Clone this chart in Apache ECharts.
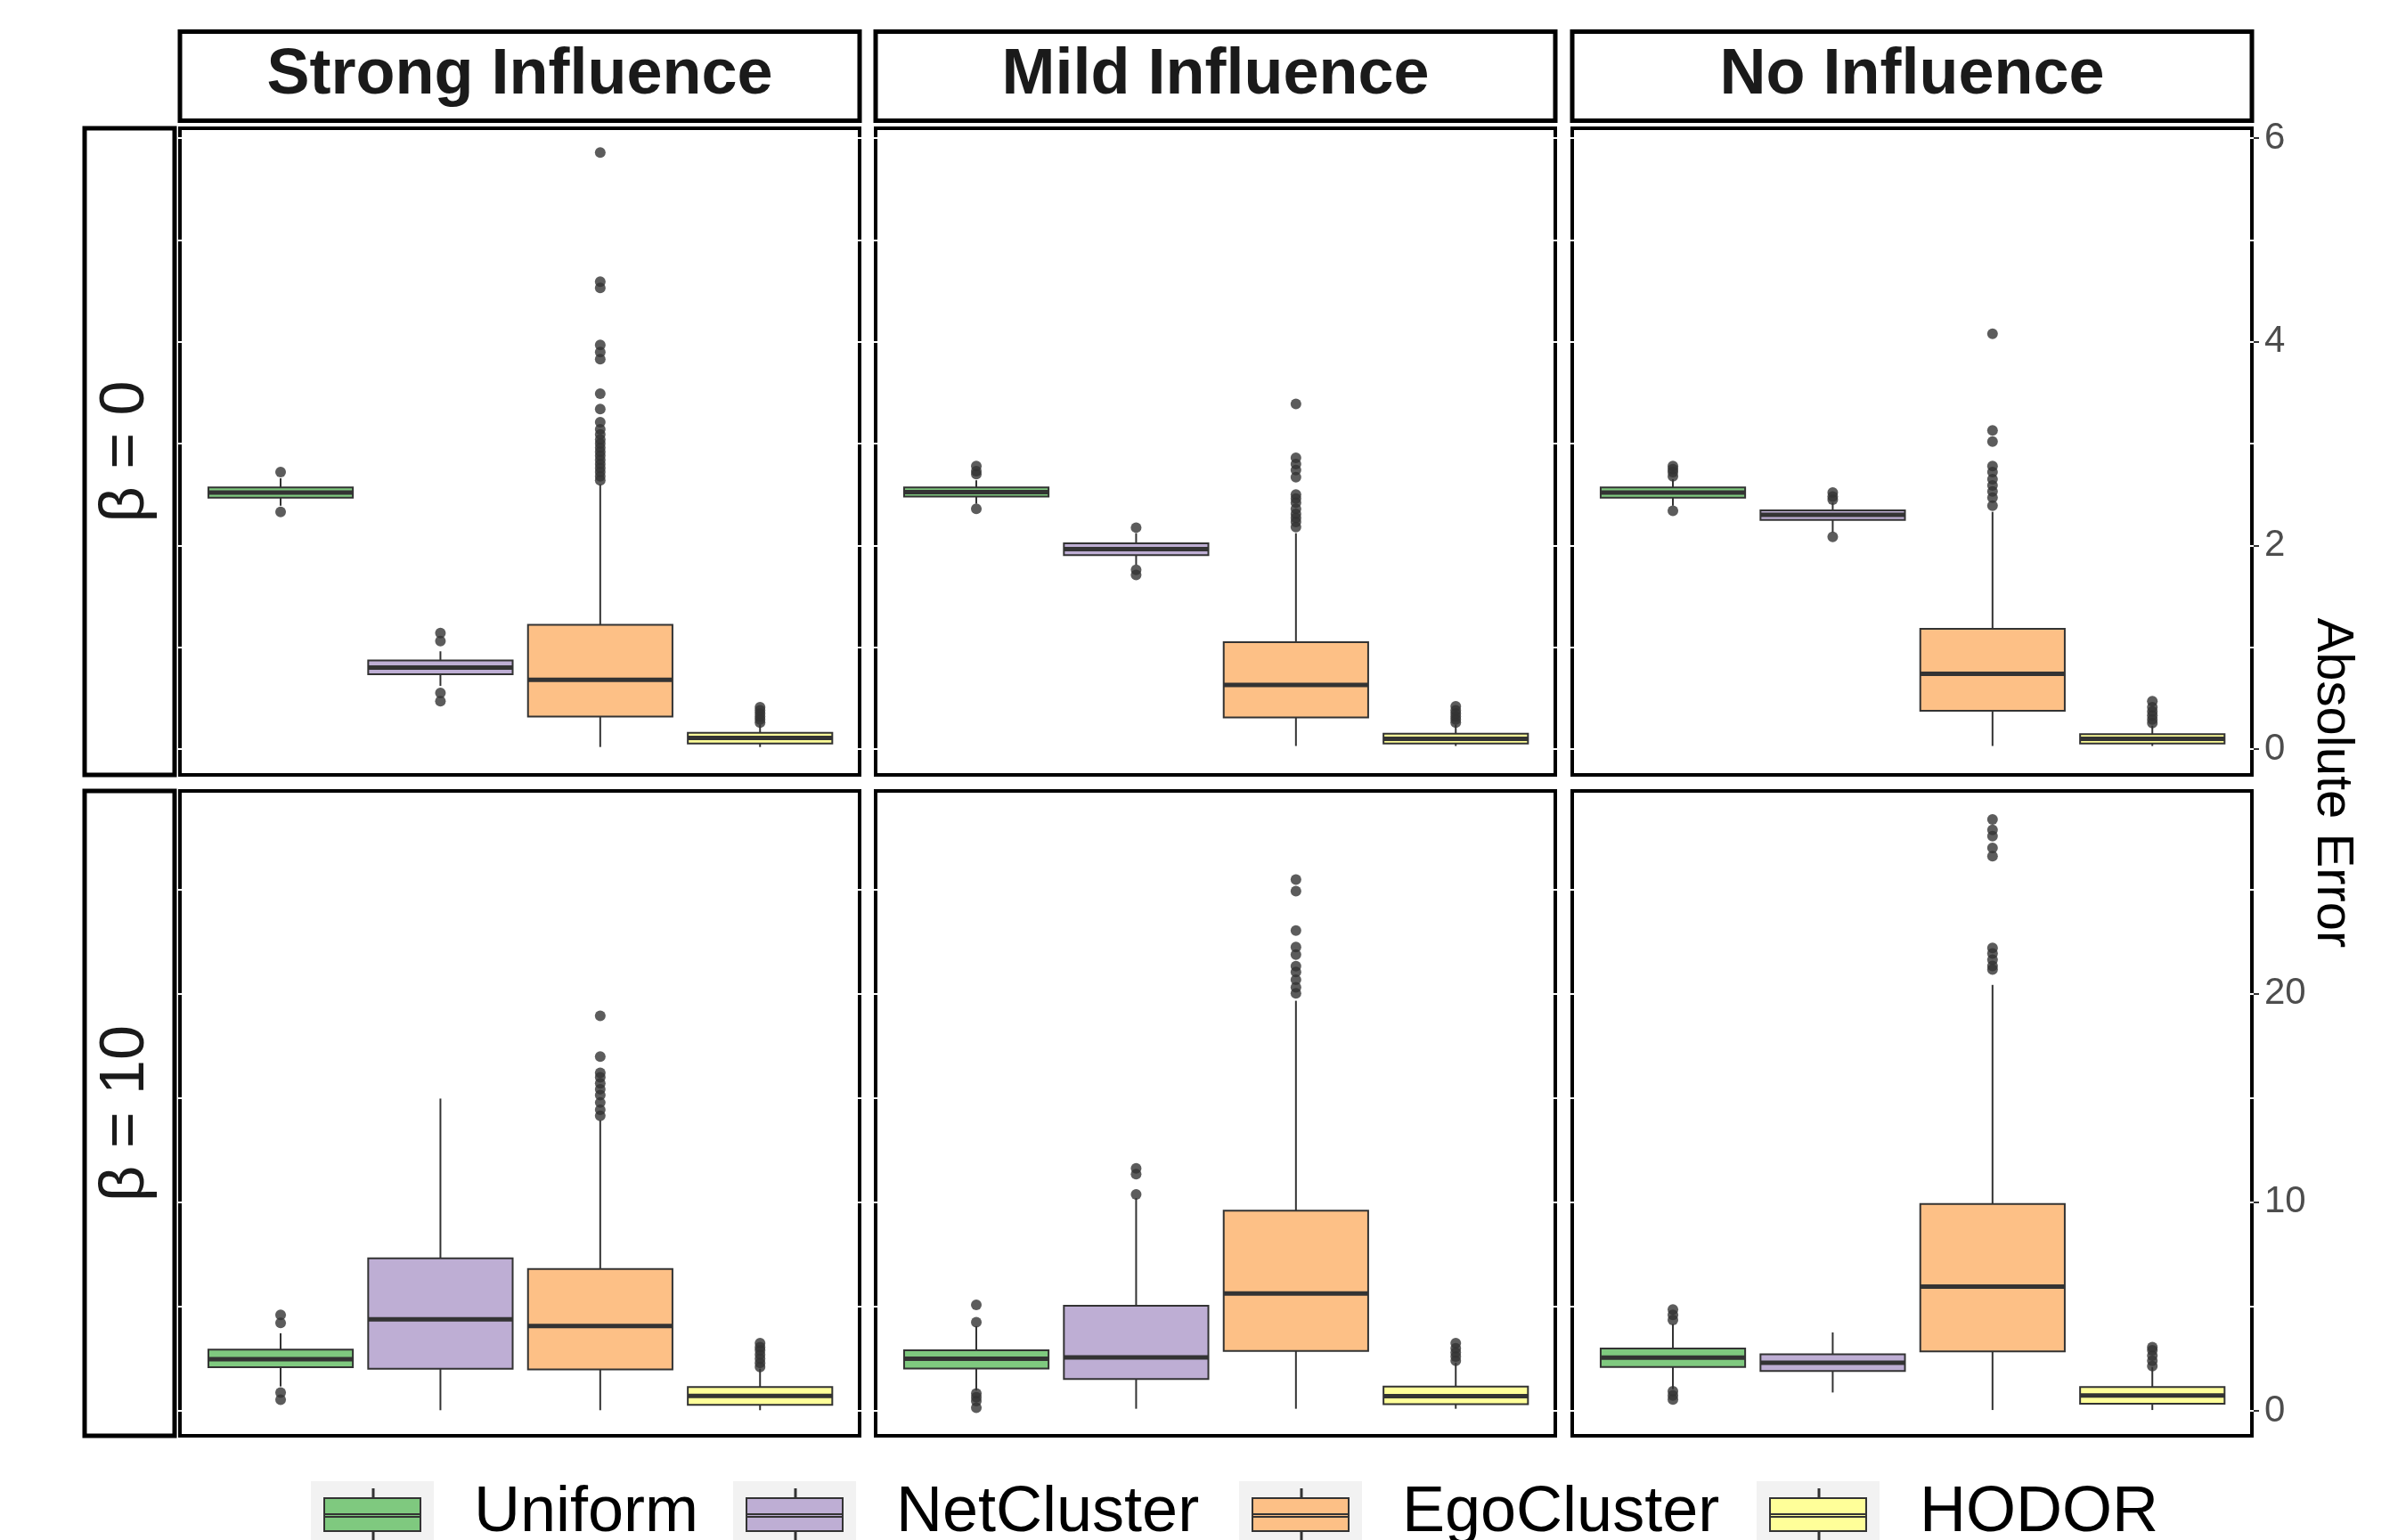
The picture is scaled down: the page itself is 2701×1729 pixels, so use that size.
<!DOCTYPE html>
<html><head><meta charset="utf-8">
<script src="https://cdn.jsdelivr.net/npm/echarts@6/dist/echarts.min.js"></script>
<style>html,body{margin:0;padding:0;background:#fff}#c{width:2701px;height:1729px}</style>
</head><body><div id="c"></div>
<script>
// ---------- data ----------
const METHODS = ['Uniform', 'NetCluster', 'EgoCluster', 'HODOR'];
const METHOD_COLORS = ['#7FC97F', '#BEAED4', '#FDC086', '#FFFF99'];
const INFLUENCES = ['Strong Influence', 'Mild Influence', 'No Influence'];
const BETA_LABELS = ['β = 0', 'β = 10'];
const X_POS = [1, 2, 3, 4];
const X_RANGE = [0.37, 4.623];
const X_BREAKS = [0.9, 1.433, 1.967, 2.5, 3.033, 3.567, 4.1];
const Y_RANGE_B0 = [-0.254, 6.098];
const Y_RANGE_B10 = [-1.196, 29.72];
const Y_TICKS_B0 = [0, 2, 4, 6];
const Y_MINOR_B0 = [0, 1, 2, 3, 4, 5, 6];
const Y_TICKS_B10 = [0, 10, 20];
const Y_MINOR_B10 = [0, 5, 10, 15, 20, 25];
const Y_TITLE = 'Absolute Error';

// box stats: [lower whisker, Q1, median, Q3, upper whisker] per method
const B0_STRONG_BOX = [[2.39, 2.47, 2.52, 2.57, 2.66], [0.62, 0.735, 0.80, 0.87, 0.96], [0.02, 0.32, 0.68, 1.22, 2.60], [0.02, 0.055, 0.11, 0.16, 0.24]];
const B0_STRONG_OUT = [[2.72, 2.33], [1.14, 1.06, 0.55, 0.47], [5.86, 4.59, 4.53, 3.97, 3.90, 3.83, 3.49, 3.34, 3.21, 3.14, 3.09, 3.04, 3.00, 2.96, 2.92, 2.88, 2.84, 2.80, 2.76, 2.72, 2.68, 2.64], [0.26, 0.29, 0.32, 0.35, 0.38, 0.41]];
const B0_MILD_BOX = [[2.41, 2.48, 2.525, 2.57, 2.64], [1.81, 1.905, 1.965, 2.02, 2.12], [0.03, 0.31, 0.63, 1.05, 2.12], [0.03, 0.055, 0.10, 0.15, 0.24]];
const B0_MILD_OUT = [[2.78, 2.73, 2.70, 2.36], [2.175, 1.76, 1.71], [3.39, 2.86, 2.80, 2.74, 2.67, 2.50, 2.46, 2.42, 2.36, 2.31, 2.27, 2.23, 2.18], [0.26, 0.29, 0.32, 0.35, 0.38, 0.42]];
const B0_NO_BOX = [[2.39, 2.47, 2.52, 2.57, 2.65], [2.13, 2.25, 2.30, 2.345, 2.42], [0.03, 0.375, 0.74, 1.18, 2.33], [0.03, 0.055, 0.10, 0.146, 0.23]];
const B0_NO_OUT = [[2.78, 2.75, 2.72, 2.68, 2.34], [2.52, 2.48, 2.45, 2.085], [4.08, 3.13, 3.02, 2.78, 2.72, 2.65, 2.59, 2.53, 2.47, 2.39], [0.255, 0.29, 0.33, 0.37, 0.41, 0.47]];

const B10_STRONG_BOX = [[1.17, 2.09, 2.48, 2.94, 3.72], [0.03, 2.02, 4.39, 7.31, 14.97], [0.03, 1.99, 4.07, 6.80, 13.93], [0.03, 0.29, 0.71, 1.14, 2.02]];
const B10_STRONG_OUT = [[4.60, 4.22, 0.88, 0.53], [], [18.94, 16.98, 16.20, 15.99, 15.70, 15.42, 15.14, 14.78, 14.43, 14.14], [2.10, 2.30, 2.50, 2.70, 2.90, 3.05, 3.24]];
const B10_MILD_BOX = [[0.98, 2.03, 2.50, 2.90, 4.06], [0.10, 1.53, 2.56, 5.04, 10.20], [0.10, 2.87, 5.63, 9.60, 19.66], [0.10, 0.32, 0.70, 1.16, 2.30]];
const B10_MILD_OUT = [[5.08, 4.25, 0.83, 0.65, 0.47, 0.15], [11.63, 11.35, 10.38], [25.47, 24.92, 23.03, 22.24, 21.87, 21.32, 21.04, 20.67, 20.30, 20.02], [2.40, 2.60, 2.80, 3.00, 3.24]];
const B10_NO_BOX = [[1.04, 2.10, 2.55, 2.99, 4.16], [0.88, 1.91, 2.31, 2.71, 3.76], [0.04, 2.85, 5.96, 9.92, 20.42], [0.04, 0.34, 0.74, 1.14, 2.10]];
const B10_NO_OUT = [[4.86, 4.60, 4.36, 0.94, 0.74, 0.54], [], [28.35, 27.85, 27.55, 26.99, 26.59, 22.19, 21.93, 21.63, 21.33, 21.16], [2.15, 2.40, 2.65, 2.90, 3.05]];

const PANEL_BOXES = [[B0_STRONG_BOX, B0_MILD_BOX, B0_NO_BOX], [B10_STRONG_BOX, B10_MILD_BOX, B10_NO_BOX]];
const PANEL_OUTLIERS = [[B0_STRONG_OUT, B0_MILD_OUT, B0_NO_OUT], [B10_STRONG_OUT, B10_MILD_OUT, B10_NO_OUT]];
const ROW_Y_RANGE = [Y_RANGE_B0, Y_RANGE_B10];
const ROW_Y_TICKS = [Y_TICKS_B0, Y_TICKS_B10];
const ROW_Y_MINOR = [Y_MINOR_B0, Y_MINOR_B10];

// ---------- layout / style ----------
const FONT = 'Liberation Sans, Arial, Helvetica, sans-serif';
const PANEL_LEFT = [202, 983, 1765];
const PANEL_W = 763;
const ROW_TOP = [144, 888];
const ROW_H = [726, 724];
const BOX_HALF = 0.452;
const LEG_X = [349, 823, 1391, 1972];
const KEY_ICON = 'path://M0 0M177 66M14 16H122V53H14Z M68.5 6H69.5V16H68.5Z M68.5 53H69.5V63H68.5Z M14 34H122V37H14Z';

function renderBox(params, api) {
  const x = api.value(0);
  const lo = api.value(1), q1 = api.value(2), med = api.value(3), q3 = api.value(4), hi = api.value(5);
  const tl = api.coord([x - BOX_HALF, q3]);
  const br = api.coord([x + BOX_HALF, q1]);
  const m = api.coord([x, med]);
  const top = api.coord([x, hi]);
  const bot = api.coord([x, lo]);
  const dark = '#333333';
  return {
    type: 'group',
    children: [
      { type: 'line', shape: { x1: m[0], y1: top[1], x2: m[0], y2: tl[1] }, style: { stroke: dark, lineWidth: 2 } },
      { type: 'line', shape: { x1: m[0], y1: br[1], x2: m[0], y2: bot[1] }, style: { stroke: dark, lineWidth: 2 } },
      { type: 'rect', shape: { x: tl[0], y: tl[1], width: br[0] - tl[0], height: br[1] - tl[1] }, style: { fill: api.visual('color'), stroke: dark, lineWidth: 2 } },
      { type: 'line', shape: { x1: tl[0], y1: m[1], x2: br[0], y2: m[1] }, style: { stroke: dark, lineWidth: 5 } }
    ]
  };
}

const grids = [], xAxes = [], yAxes = [], series = [], graphics = [];
const notchTick = (vals) => ({ show: true, inside: true, length: 4, customValues: vals, lineStyle: { color: '#ffffff', width: 2 } });

for (let r = 0; r < 2; r++) {
  for (let c = 0; c < 3; c++) {
    const gi = r * 3 + c;
    grids.push({ left: PANEL_LEFT[c], top: ROW_TOP[r], width: PANEL_W, height: ROW_H[r], show: true, borderColor: '#000', borderWidth: 4, backgroundColor: '#fff', z: 0 });
    const xi = xAxes.length;
    ['bottom', 'top'].forEach(pos => xAxes.push({
      type: 'value', gridIndex: gi, position: pos, min: X_RANGE[0], max: X_RANGE[1], offset: 2, z: 5,
      axisLine: { show: false }, axisTick: notchTick(X_BREAKS), axisLabel: { show: false }, splitLine: { show: false }
    }));
    const yi = yAxes.length;
    ['left', 'right'].forEach(pos => yAxes.push({
      type: 'value', gridIndex: gi, position: pos, min: ROW_Y_RANGE[r][0], max: ROW_Y_RANGE[r][1], offset: 2, z: 5,
      axisLine: { show: false }, axisTick: notchTick(ROW_Y_MINOR[r]), axisLabel: { show: false }, splitLine: { show: false }
    }));
    if (c === 2) {
      yAxes.push({
        type: 'value', gridIndex: gi, position: 'right', min: ROW_Y_RANGE[r][0], max: ROW_Y_RANGE[r][1], offset: 2, z: 5,
        axisLine: { show: false },
        axisTick: { show: true, inside: false, length: 6, customValues: ROW_Y_TICKS[r], lineStyle: { color: '#333', width: 2 } },
        axisLabel: { show: true, customValues: ROW_Y_TICKS[r], margin: 12, fontSize: 42, color: '#4D4D4D', fontFamily: FONT },
        splitLine: { show: false }
      });
    }
    for (let m = 0; m < 4; m++) {
      const b = PANEL_BOXES[r][c][m];
      series.push({
        type: 'custom', name: METHODS[m], xAxisIndex: xi, yAxisIndex: yi, z: 2,
        itemStyle: { color: METHOD_COLORS[m] },
        encode: { x: 0, y: [1, 2, 3, 4, 5] },
        data: [[X_POS[m], b[0], b[1], b[2], b[3], b[4]]],
        renderItem: renderBox
      });
      series.push({
        type: 'scatter', name: METHODS[m], xAxisIndex: xi, yAxisIndex: yi, z: 3,
        symbol: 'circle', symbolSize: 12, itemStyle: { color: '#333333' },
        data: PANEL_OUTLIERS[r][c][m].map(v => [X_POS[m], v])
      });
    }
  }
}

// strips
for (let c = 0; c < 3; c++) {
  graphics.push({ type: 'rect', shape: { x: PANEL_LEFT[c], y: 35.5, width: PANEL_W, height: 100 }, style: { fill: '#fff', stroke: '#000', lineWidth: 5 } });
  graphics.push({ type: 'text', x: PANEL_LEFT[c] + PANEL_W / 2, y: 85, style: { text: INFLUENCES[c], fill: '#1a1a1a', fontSize: 72, fontWeight: 'bold', fontFamily: FONT, align: 'center', verticalAlign: 'middle' } });
}
for (let r = 0; r < 2; r++) {
  graphics.push({ type: 'rect', shape: { x: 95, y: ROW_TOP[r], width: 101, height: ROW_H[r] }, style: { fill: '#fff', stroke: '#000', lineWidth: 5 } });
  graphics.push({ type: 'text', x: 142, y: ROW_TOP[r] + ROW_H[r] / 2, rotation: Math.PI / 2, style: { text: BETA_LABELS[r], fill: '#1a1a1a', fontSize: 70, fontFamily: FONT, align: 'center', verticalAlign: 'middle' } });
}
graphics.push({ type: 'text', x: 2618, y: 879, rotation: -Math.PI / 2, style: { text: Y_TITLE, fill: '#000', fontSize: 58, fontFamily: FONT, align: 'center', verticalAlign: 'middle' } });
// legend key backgrounds
for (let m = 0; m < 4; m++) {
  graphics.push({ type: 'rect', shape: { x: LEG_X[m], y: 1663, width: 138, height: 66 }, style: { fill: '#F2F2F2' } });
}

const legends = METHODS.map((name, m) => ({
  show: true, left: LEG_X[m], top: 1663, padding: 0, itemGap: 0, orient: 'horizontal',
  itemWidth: 177, itemHeight: 66, selectedMode: false,
  data: [{ name: name, icon: KEY_ICON }],
  itemStyle: { color: METHOD_COLORS[m], borderColor: '#333333', borderWidth: 2 },
  textStyle: { fontSize: 72, color: '#000', fontFamily: FONT }
}));

const chart = echarts.init(document.getElementById('c'), null, { renderer: 'canvas' });
chart.setOption({
  animation: false,
  backgroundColor: '#ffffff',
  grid: grids,
  xAxis: xAxes,
  yAxis: yAxes,
  legend: legends,
  graphic: { elements: graphics },
  series: series
});
</script></body></html>
